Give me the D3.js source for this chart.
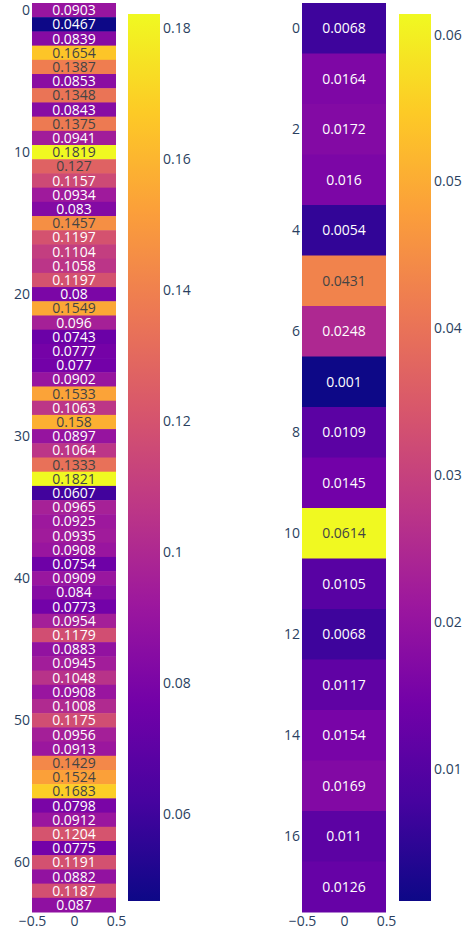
<!DOCTYPE html>
<html>
<head>
<meta charset="utf-8">
<script src="https://cdn.jsdelivr.net/npm/d3@7"></script>
<style>
  body { margin: 0; background: #fff; }
  text { font-family: "Open Sans", "DejaVu Sans", sans-serif; }
</style>
</head>
<body>
<div id="chart"></div>
<script>
/**
 * DATA
 * */
const leftValues = [
  0.0903, 0.0467, 0.0839, 0.1654, 0.1387, 0.0853, 0.1348, 0.0843, 0.1375, 0.0941,
  0.1819, 0.127, 0.1157, 0.0934, 0.083, 0.1457, 0.1197, 0.1104, 0.1058, 0.1197,
  0.08, 0.1549, 0.096, 0.0743, 0.0777, 0.077, 0.0902, 0.1533, 0.1063, 0.158,
  0.0897, 0.1064, 0.1333, 0.1821, 0.0607, 0.0965, 0.0925, 0.0935, 0.0908, 0.0754,
  0.0909, 0.084, 0.0773, 0.0954, 0.1179, 0.0883, 0.0945, 0.1048, 0.0908, 0.1008,
  0.1175, 0.0956, 0.0913, 0.1429, 0.1524, 0.1683, 0.0798, 0.0912, 0.1204, 0.0775,
  0.1191, 0.0882, 0.1187, 0.087
];
const rightValues = [
  0.0068, 0.0164, 0.0172, 0.016, 0.0054, 0.0431, 0.0248, 0.001, 0.0109, 0.0145,
  0.0614, 0.0105, 0.0068, 0.0117, 0.0154, 0.0169, 0.011, 0.0126
];
const leftRowTicks = [0, 10, 20, 30, 40, 50, 60];
const rightRowTicks = [0, 2, 4, 6, 8, 10, 12, 14, 16];
const leftBarTicks = [0.06, 0.08, 0.1, 0.12, 0.14, 0.16, 0.18];
const rightBarTicks = [0.01, 0.02, 0.03, 0.04, 0.05, 0.06];
const xTicks = [-0.5, 0, 0.5];

// plotly "Plasma"
const plasmaStops = ["#0d0887", "#46039f", "#7201a8", "#9c179e", "#bd3786",
  "#d8576b", "#ed7953", "#fb9f3a", "#fdca26", "#f0f921"];

/**
 * CONSTANTS
 * */
const width = 465, height = 934;
const plotTop = 3, plotBottom = 912;
const barTop = 14, barBottom = 901;
const axisColor = "#2a3f5f";

const svg = d3.select("#chart").append("svg")
  .attr("width", width)
  .attr("height", height);

const defs = svg.append("defs");

function textColor(c) {
  const r = d3.rgb(c);
  const bright = (r.r * 299 + r.g * 587 + r.b * 114) / 1000;
  return bright > 128 ? "#444" : "#fff";
}

function drawHeatmap(id, values, rowTicks, barTicks, x0, x1, bx0, bx1) {
  const min = d3.min(values), max = d3.max(values);
  const color = d3.scaleLinear()
    .domain(plasmaStops.map((d, i) => min + (max - min) * i / (plasmaStops.length - 1)))
    .range(plasmaStops)
    .interpolate(d3.interpolateRgb);

  const x = d3.scaleLinear().domain([-0.5, 0.5]).range([x0, x1]);
  const y = d3.scaleBand().domain(d3.range(values.length)).range([plotTop, plotBottom]).padding(0);

  const g = svg.append("g");

  g.selectAll("rect.cell")
    .data(values)
    .join("rect")
    .attr("class", "cell")
    .attr("x", x(-0.5))
    .attr("width", x(0.5) - x(-0.5))
    .attr("y", (d, i) => y(i))
    .attr("height", y.bandwidth() + 0.5)
    .attr("fill", d => color(d));

  g.selectAll("text.val")
    .data(values)
    .join("text")
    .attr("class", "val")
    .attr("x", x(0))
    .attr("y", (d, i) => y(i) + y.bandwidth() / 2)
    .attr("dy", "0.36em")
    .attr("text-anchor", "middle")
    .attr("font-size", 14)
    .attr("fill", d => textColor(color(d)))
    .text(d => String(d));

  // y tick labels
  g.selectAll("text.ytick")
    .data(rowTicks)
    .join("text")
    .attr("class", "ytick")
    .attr("x", x0 - 2)
    .attr("y", d => y(d) + y.bandwidth() / 2)
    .attr("dy", "0.36em")
    .attr("text-anchor", "end")
    .attr("font-size", 14)
    .attr("fill", axisColor)
    .text(d => d);

  // x axis
  const xAxis = d3.axisBottom(x).tickValues(xTicks).tickSize(0).tickPadding(4)
    .tickFormat(d3.format(""));
  const ax = g.append("g")
    .attr("transform", `translate(0,${plotBottom})`)
    .call(xAxis);
  ax.select(".domain").remove();
  ax.selectAll("text")
    .attr("font-size", 14)
    .attr("fill", axisColor)
    .style("font-family", '"Open Sans", "DejaVu Sans", sans-serif');

  // colorbar
  const grad = defs.append("linearGradient")
    .attr("id", id)
    .attr("x1", 0).attr("y1", 1).attr("x2", 0).attr("y2", 0);
  grad.selectAll("stop")
    .data(plasmaStops)
    .join("stop")
    .attr("offset", (d, i) => i / (plasmaStops.length - 1))
    .attr("stop-color", d => d);

  g.append("rect")
    .attr("x", bx0)
    .attr("y", barTop)
    .attr("width", bx1 - bx0)
    .attr("height", barBottom - barTop)
    .attr("fill", `url(#${id})`);

  const cb = d3.scaleLinear().domain([min, max]).range([barBottom, barTop]);
  const cAxis = d3.axisRight(cb).tickValues(barTicks).tickSize(0).tickPadding(3)
    .tickFormat(d3.format(""));
  const cax = g.append("g")
    .attr("transform", `translate(${bx1},0)`)
    .call(cAxis);
  cax.select(".domain").remove();
  cax.selectAll("text")
    .attr("font-size", 14)
    .attr("fill", axisColor)
    .style("font-family", '"Open Sans", "DejaVu Sans", sans-serif');
}

drawHeatmap("gradL", leftValues, leftRowTicks, leftBarTicks, 32, 116, 128, 160);
drawHeatmap("gradR", rightValues, rightRowTicks, rightBarTicks, 302, 386, 399, 431);
</script>
</body>
</html>
